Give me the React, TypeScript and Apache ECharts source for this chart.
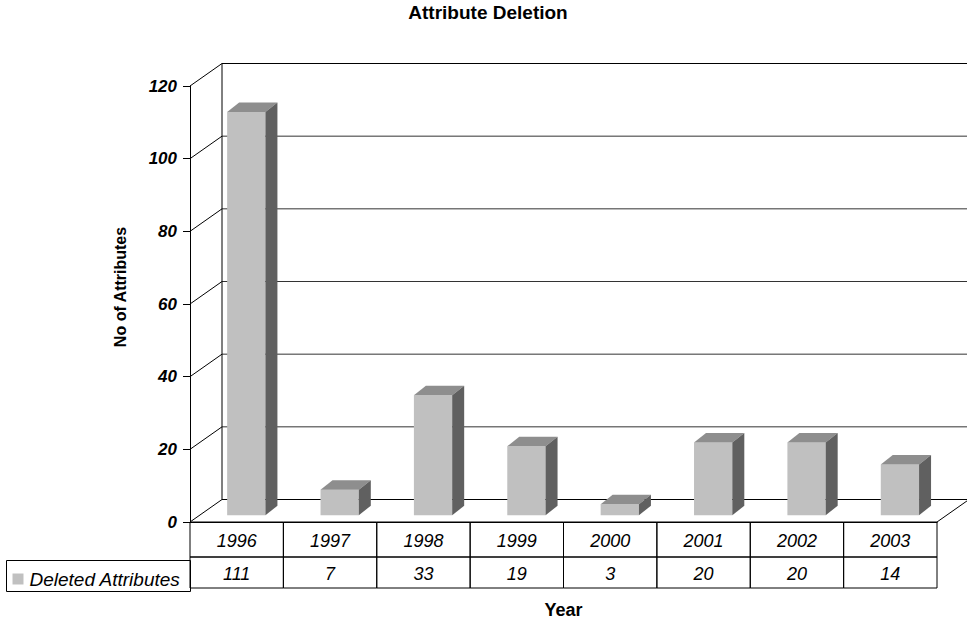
import React, { useEffect, useRef } from "react";
import * as echarts from "echarts";

// Chart data
const years = ["1996", "1997", "1998", "1999", "2000", "2001", "2002", "2003"];
const deletedAttributes = [111, 7, 33, 19, 3, 20, 20, 14];
const yTicks = [0, 20, 40, 60, 80, 100, 120];

const seriesName = "Deleted Attributes";
const yAxisTitle = "No of Attributes";

// Pseudo-3D geometry: depth of the plot box and of each bar
const DEPTH_X = 32;
const DEPTH_Y = -22.5;
const BAR_OFFSET = 0.3; // bar front face sits 30% into the box depth
const BAR_DX = 12;
const BAR_DY = -9.5;
const BAR_WIDTH_RATIO = 0.41;
const ROW1_H = 35;
const ROW2_H = 31;

const FRONT = "#c0c0c0";
const TOP = "#8e8e8e";
const SIDE = "#606060";
const FONT = "Arial, 'Liberation Sans', Helvetica, sans-serif";

export default function App() {
  const ref = useRef<HTMLDivElement>(null);

  useEffect(() => {
    if (!ref.current) return;
    const chart = echarts.init(ref.current, undefined, { renderer: "svg" });

    const option: any = {
      animation: false,
      backgroundColor: "#ffffff",
      title: {
        text: "Attribute Deletion",
        left: 488,
        textAlign: "center",
        top: 3,
        padding: 0,
        textStyle: { fontFamily: FONT, fontWeight: "bold", fontSize: 19, color: "#000" },
      },
      grid: { left: 190, right: 30, top: 86, bottom: 99 },
      xAxis: {
        type: "category",
        data: years,
        name: "Year",
        nameLocation: "middle",
        nameGap: 79,
        nameTextStyle: { fontFamily: FONT, fontWeight: "bold", fontSize: 18, color: "#000" },
        axisLine: { show: true, lineStyle: { color: "#000", width: 1 } },
        axisTick: { show: false },
        axisLabel: { show: false },
        splitLine: { show: false },
      },
      yAxis: {
        type: "value",
        min: 0,
        max: 120,
        interval: 20,
        axisLine: { show: true, lineStyle: { color: "#000", width: 1 } },
        axisTick: { show: true, length: 7, lineStyle: { color: "#000" } },
        axisLabel: {
          margin: 13,
          fontFamily: FONT,
          fontWeight: "bold",
          fontStyle: "italic",
          fontSize: 17,
          color: "#000",
        },
        splitLine: { show: false },
      },
      graphic: [
        {
          // Value axis title, centred on the whole 3D box
          type: "text",
          x: 120,
          y: 287,
          rotation: Math.PI / 2,
          style: {
            text: yAxisTitle,
            fontFamily: FONT,
            fontWeight: "bold",
            fontSize: 16,
            fill: "#000",
            align: "center",
            verticalAlign: "middle",
          },
        },
        {
          // Legend cell of the data table
          type: "group",
          left: 6,
          top: 560,
          children: [
            { type: "rect", shape: { x: 0, y: 0, width: 184, height: ROW2_H }, style: { fill: "#fff", stroke: "#000", lineWidth: 1 } },
            { type: "rect", shape: { x: 6, y: 13, width: 11, height: 11 }, style: { fill: FRONT } },
            {
              type: "text",
              x: 23,
              y: 18.5,
              style: {
                text: seriesName,
                fontFamily: FONT,
                fontStyle: "italic",
                fontSize: 19,
                fill: "#000",
                verticalAlign: "middle",
              },
            },
          ],
        },
      ],
      series: [
        {
          // Side wall, back wall gridlines and floor edges
          type: "custom",
          name: "walls",
          z: 1,
          silent: true,
          clip: false,
          data: yTicks.map((v) => [0, v]),
          encode: { x: 0, y: 1 },
          renderItem: (params: any, api: any) => {
            const cs = params.coordSys;
            const v = api.value(1);
            const y = api.coord([0, v])[1];
            const L = cs.x;
            const R = cs.x + cs.width;
            const isEdge = v === 0 || v === yTicks[yTicks.length - 1];
            const line = (x1: number, y1: number, x2: number, y2: number, color = "#000") => ({
              type: "line",
              shape: { x1, y1, x2, y2 },
              style: { stroke: color, lineWidth: 1 },
            });
            const children: any[] = [
              line(L, y, L + DEPTH_X, y + DEPTH_Y),
              line(L + DEPTH_X, y + DEPTH_Y, R + DEPTH_X, y + DEPTH_Y, isEdge ? "#000" : "#333"),
            ];
            if (v === 0) {
              children.push(line(R, y, R + DEPTH_X, y + DEPTH_Y));
            }
            if (v === yTicks[yTicks.length - 1]) {
              const y0 = api.coord([0, 0])[1];
              children.push(line(L + DEPTH_X, y0 + DEPTH_Y, L + DEPTH_X, y + DEPTH_Y));
            }
            return { type: "group", children };
          },
        },
        {
          // 3D bars
          type: "custom",
          name: seriesName,
          z: 2,
          clip: false,
          data: deletedAttributes.map((v, i) => [i, v]),
          encode: { x: 0, y: 1 },
          renderItem: (params: any, api: any) => {
            const idx = api.value(0);
            const v = api.value(1);
            const base = api.coord([idx, 0]);
            const top = api.coord([idx, v]);
            const band = api.size([1, 0])[0];
            const w = band * BAR_WIDTH_RATIO;
            const x0 = base[0] - w / 2 + BAR_OFFSET * DEPTH_X;
            const x1 = x0 + w;
            const yb = base[1] + BAR_OFFSET * DEPTH_Y;
            const yt = top[1] + BAR_OFFSET * DEPTH_Y;
            return {
              type: "group",
              children: [
                {
                  type: "polygon",
                  shape: { points: [[x0, yb], [x1, yb], [x1, yt], [x0, yt]] },
                  style: { fill: FRONT },
                },
                {
                  type: "polygon",
                  shape: { points: [[x0, yt], [x1, yt], [x1 + BAR_DX, yt + BAR_DY], [x0 + BAR_DX, yt + BAR_DY]] },
                  style: { fill: TOP },
                },
                {
                  type: "polygon",
                  shape: { points: [[x1, yb], [x1 + BAR_DX, yb + BAR_DY], [x1 + BAR_DX, yt + BAR_DY], [x1, yt]] },
                  style: { fill: SIDE },
                },
              ],
            };
          },
        },
        {
          // Data table under the plot
          type: "custom",
          name: "table",
          z: 3,
          silent: true,
          clip: false,
          data: deletedAttributes.map((v, i) => [i, v]),
          encode: { x: 0, y: 1 },
          renderItem: (params: any, api: any) => {
            const idx = api.value(0);
            const v = api.value(1);
            const p = api.coord([idx, 0]);
            const band = api.size([1, 0])[0];
            const xL = p[0] - band / 2;
            const y0 = p[1];
            const textStyle = {
              fontFamily: FONT,
              fontStyle: "italic",
              fontSize: 18,
              fill: "#000",
              align: "center",
              verticalAlign: "middle",
            };
            return {
              type: "group",
              children: [
                { type: "rect", shape: { x: xL, y: y0, width: band, height: ROW1_H }, style: { fill: "none", stroke: "#000", lineWidth: 1 } },
                { type: "rect", shape: { x: xL, y: y0 + ROW1_H, width: band, height: ROW2_H }, style: { fill: "none", stroke: "#000", lineWidth: 1 } },
                { type: "text", x: p[0], y: y0 + ROW1_H / 2 + 1, style: { ...textStyle, text: years[idx] } },
                { type: "text", x: p[0], y: y0 + ROW1_H + ROW2_H / 2 + 1, style: { ...textStyle, text: String(v) } },
              ],
            };
          },
        },
      ],
    };

    chart.setOption(option);
    return () => chart.dispose();
  }, []);

  return (
    <div
      ref={ref}
      style={{ position: "fixed", left: 0, top: 0, width: 967, height: 624, background: "#fff" }}
    />
  );
}
